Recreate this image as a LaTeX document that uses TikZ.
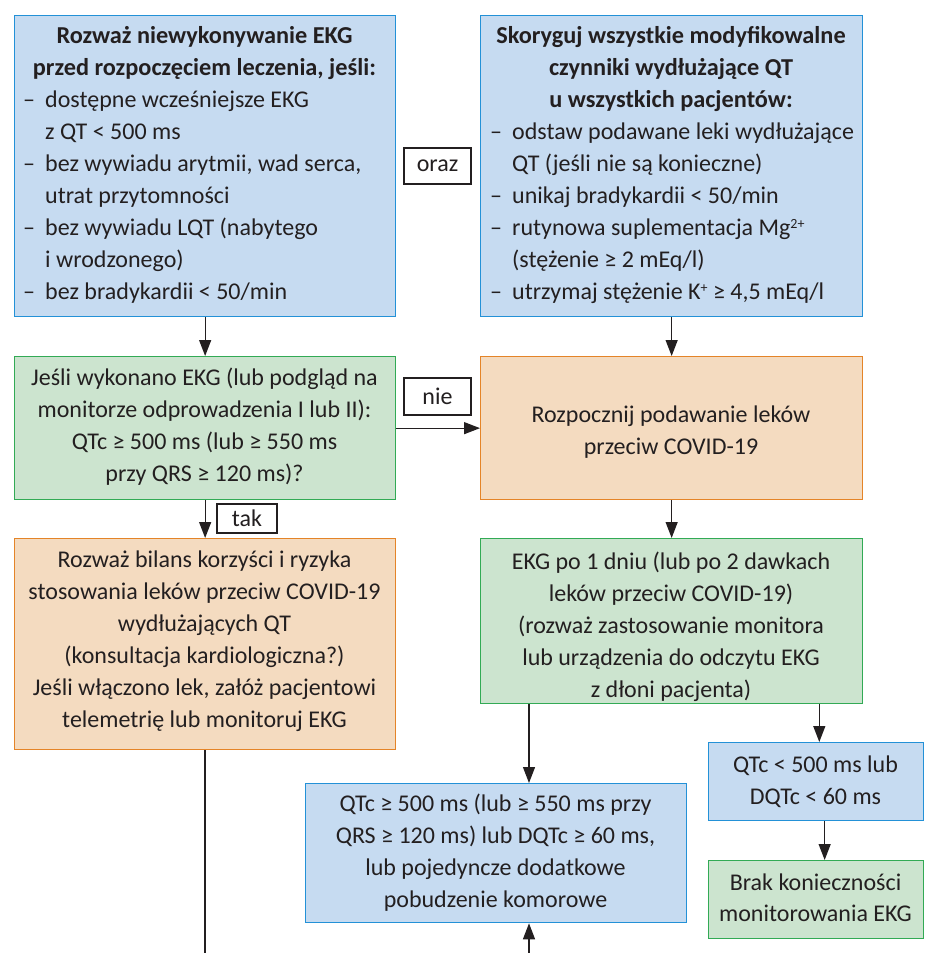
\documentclass[tikz,border=0pt]{standalone}
\usepackage{fontspec}
\setmainfont{Carlito}
\usetikzlibrary{arrows.meta,calc}
\definecolor{bfill}{RGB}{198,219,241}
\definecolor{bdraw}{RGB}{35,145,215}
\definecolor{gfill}{RGB}{204,228,207}
\definecolor{gdraw}{RGB}{50,170,85}
\definecolor{ofill}{RGB}{244,219,192}
\definecolor{odraw}{RGB}{228,132,40}
\definecolor{txt}{RGB}{35,31,32}
\newcommand\itm[1]{\makebox[22pt][l]{–}#1}
\newcommand\cnt[1]{\hspace*{22pt}#1}
\newcommand\sups[1]{\raisebox{6.5pt}{\fontsize{14}{14}\selectfont #1}}
\begin{document}
\begin{tikzpicture}[x=1pt,y=-1pt,
  box/.style={draw, line width=1.3pt, inner sep=0pt, anchor=north west},
  bluebox/.style={box, draw=bdraw, fill=bfill},
  greenbox/.style={box, draw=gdraw, fill=gfill},
  orangebox/.style={box, draw=odraw, fill=ofill},
  txtn/.style={inner sep=0pt, anchor=base, align=center, text=txt, font=\fontsize{24}{32}\selectfont},
  titl/.style={txtn, font=\fontsize{24.3}{32}\selectfont\bfseries},
  lst/.style={txtn, anchor=base west, align=left},
  lbl/.style={draw=txt, fill=white, line width=1.1pt, inner sep=0pt, text=txt, font=\fontsize{24}{32}\selectfont},
  arr/.style={line width=1.3pt, draw=txt, -{Triangle[length=16pt,width=12pt]}},
  ln/.style={line width=1.3pt, draw=txt},
]
\useasboundingbox (0,0) rectangle (924,953);

% boxes
\node[bluebox, minimum width=381pt, minimum height=301pt] (b1) at (14,15) {};
\node[bluebox, minimum width=382pt, minimum height=301pt] (b2) at (480,15) {};
\node[greenbox, minimum width=381pt, minimum height=143pt] (b3) at (14,356) {};
\node[orangebox, minimum width=382pt, minimum height=143pt] (b4) at (480,356) {};
\node[orangebox, minimum width=381pt, minimum height=211pt] (b5) at (14,538) {};
\node[greenbox, minimum width=382pt, minimum height=165pt] (b6) at (480,538) {};
\node[bluebox, minimum width=381pt, minimum height=139pt] (b7) at (305,783) {};
\node[bluebox, minimum width=215pt, minimum height=78pt] (q1) at (708,742) {};
\node[greenbox, minimum width=215pt, minimum height=78pt] (q2) at (708,860) {};

% texts (anchor = baseline of the last line)
\node[titl] (t1) at (204.5,75) {Rozważ niewykonywanie EKG\\przed rozpoczęciem leczenia, jeśli:};
\node[lst] (l1) at (23,299) {\itm{dostępne wcześniejsze EKG}\\\cnt{z QT < 500 ms}\\\itm{bez wywiadu arytmii, wad serca,}\\\cnt{utrat przytomności}\\\itm{bez wywiadu LQT (nabytego}\\\cnt{i wrodzonego)}\\\itm{bez bradykardii < 50/min}};
\node[titl] (t2) at (671,107) {Skoryguj wszystkie modyfikowalne\\czynniki wydłużające QT\\u wszystkich pacjentów:};
\node[lst] (l2) at (490,299) {\itm{odstaw podawane leki wydłużające}\\\cnt{QT (jeśli nie są konieczne)}\\\itm{unikaj bradykardii < 50/min}\\\itm{rutynowa suplementacja Mg\sups{2+}}\\\cnt{(stężenie ≥ 2 mEq/l)}\\\itm{utrzymaj stężenie K\sups{+} ≥ 4,5 mEq/l}};
\node[txtn] (t3) at (204.5,481) {Jeśli wykonano EKG (lub podgląd na\\monitorze odprowadzenia I lub II):\\QTc ≥ 500 ms (lub ≥ 550 ms\\przy QRS ≥ 120 ms)?};
\node[txtn] (t4) at (671,454) {Rozpocznij podawanie leków\\przeciw COVID-19};
\node[txtn] (t5) at (204.5,727) {Rozważ bilans korzyści i ryzyka\\stosowania leków przeciw COVID-19\\wydłużających QT\\(konsultacja kardiologiczna?)\\Jeśli włączono lek, załóż pacjentowi\\telemetrię lub monitoruj EKG};
\node[txtn] (t6) at (671,697) {EKG po 1 dniu (lub po 2 dawkach\\leków przeciw COVID-19)\\(rozważ zastosowanie monitora\\lub urządzenia do odczytu EKG\\z dłoni pacjenta)};
\node[txtn] (t7) at (495.5,907) {QTc ≥ 500 ms (lub ≥ 550 ms przy\\QRS ≥ 120 ms) lub DQTc ≥ 60 ms,\\lub pojedyncze dodatkowe\\pobudzenie komorowe};
\node[txtn] (t8) at (815.5,804) {QTc < 500 ms lub\\DQTc < 60 ms};
\node[txtn, font=\fontsize{24}{31}\selectfont] (t9) at (815.5,921) {Brak konieczności\\monitorowania EKG};

% labels
\node[lbl, minimum width=67pt, minimum height=36pt] (oraz) at (437.5,166) {oraz};
\node[lbl, minimum width=67pt, minimum height=37pt] (nie) at (437.5,396.5) {nie};
\node[lbl, minimum width=60pt, minimum height=29pt] (tak) at (247,518.5) {tak};

% connectors
\coordinate (e1) at (205,953);
\coordinate (e2) at (529,953);
\draw[arr] (b1.south) -- (b3.north);
\draw[arr] (b2.south) -- (b4.north);
\draw[arr] (b3.east) -- (b4.west);
\draw[arr] (b3.south) -- (b5.north);
\draw[arr] (b4.south) -- (b6.north);
\draw[ln] (b5.south -| e1) -- (e1);
\draw[arr] ([xshift=49pt]b6.south west) -- ([xshift=49pt]b6.south west |- b7.north);
\draw[arr] (e2) -- (e2 |- b7.south);
\draw[arr] ([xshift=-44pt]b6.south east) -- ([xshift=-44pt]b6.south east |- q1.north);
\draw[arr] ([xshift=8.5pt]q1.south) -- ([xshift=8.5pt]q2.north);
\end{tikzpicture}
\end{document}
